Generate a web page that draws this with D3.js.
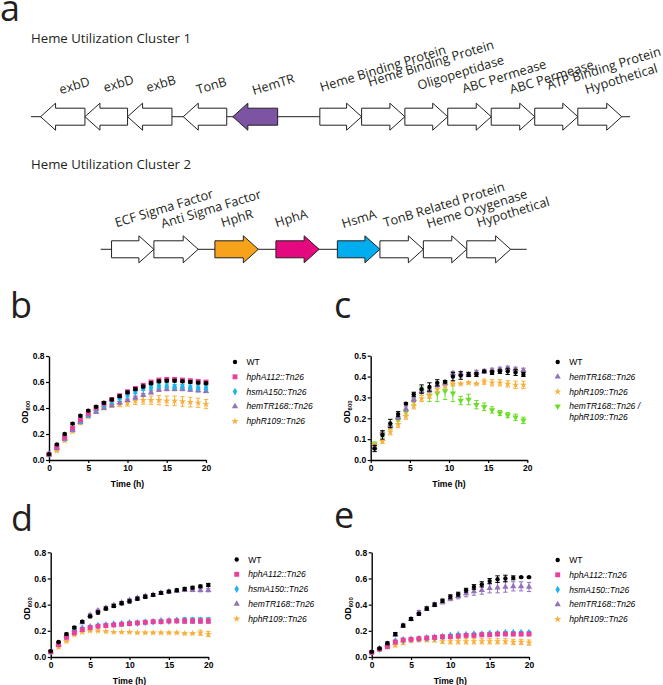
<!DOCTYPE html>
<html>
<head>
<meta charset="utf-8">
<script src="https://cdn.jsdelivr.net/npm/d3@7"></script>
<style>
  body { margin: 0; background: #fff; }
  svg { display: block; }
</style>
</head>
<body>
<div id="fig"></div>
<script>
// ---------- panel a : gene clusters (positions in gene-length units) ----------
var cluster1Genes  = ["exbD", "exbD", "exbB", "TonB", "HemTR", "Heme Binding Protein", "Heme Binding Protein",
                      "Oligopeptidase", "ABC Permease", "ABC Permease", "ATP Binding Protein", "Hypothetical"];
var cluster1Start  = [0, 1.02, 2.0, 3.28, 4.42, 6.42, 7.38, 8.375, 9.36, 10.36, 11.36, 12.35];
var cluster1End    = [1.02, 2.0, 3.02, 4.28, 5.45, 7.38, 8.375, 9.36, 10.36, 11.36, 12.35, 13.36];
var cluster1Strand = [-1, -1, -1, -1, -1, 1, 1, 1, 1, 1, 1, 1];
var cluster1Span   = [-0.22, 13.55];

var cluster2Genes  = ["ECF Sigma Factor", "Anti Sigma Factor", "HphR", "HphA", "HsmA",
                      "TonB Related Protein", "Heme Oxygenase", "Hypothetical"];
var cluster2Start  = [0, 0.975, 2.38, 3.785, 5.2, 6.18, 7.18, 8.18];
var cluster2End    = [0.975, 1.995, 3.38, 4.78, 6.18, 7.18, 8.18, 9.19];
var cluster2Strand = [1, 1, 1, 1, 1, 1, 1, 1];
var cluster2Span   = [-0.25, 9.56];

// ---------- growth curves ----------
var timeWhole = [0,1,2,3,4,5,6,7,8,9,10,11,12,13,14,15,16,17,18,19,20];
var timeHalf  = [0.5,1.5,2.5,3.5,4.5,5.5,6.5,7.5,8.5,9.5,10.5,11.5,12.5,13.5,14.5,15.5,16.5,17.5,18.5,19.5];

// b
var bWT       = [0.045,0.12,0.20,0.28,0.34,0.38,0.41,0.44,0.465,0.49,0.52,0.545,0.565,0.59,0.605,0.61,0.61,0.605,0.60,0.595,0.59];
var bWTErr    = [0.005,0.006,0.006,0.007,0.007,0.008,0.008,0.008,0.008,0.009,0.009,0.01,0.01,0.01,0.01,0.01,0.01,0.01,0.01,0.01,0.01];
var bHphA     = [0.045,0.10,0.175,0.245,0.31,0.36,0.40,0.435,0.465,0.495,0.525,0.55,0.575,0.60,0.615,0.62,0.62,0.615,0.61,0.605,0.60];
var bHphAErr  = [0.005,0.006,0.008,0.01,0.01,0.01,0.01,0.01,0.01,0.01,0.01,0.01,0.01,0.01,0.01,0.01,0.01,0.01,0.01,0.01,0.01];
var bHsmA     = [0.045,0.10,0.17,0.24,0.30,0.35,0.39,0.42,0.45,0.475,0.50,0.525,0.55,0.56,0.57,0.57,0.565,0.565,0.56,0.555,0.555];
var bHsmAErr  = [0.005,0.006,0.008,0.01,0.01,0.01,0.01,0.01,0.012,0.012,0.014,0.015,0.015,0.015,0.015,0.015,0.015,0.015,0.015,0.015,0.015];
var bHemTR    = [0.04,0.09,0.16,0.23,0.29,0.34,0.37,0.40,0.42,0.44,0.46,0.48,0.50,0.52,0.54,0.545,0.545,0.545,0.54,0.535,0.53];
var bHemTRErr = [0.005,0.006,0.008,0.008,0.008,0.01,0.01,0.01,0.01,0.01,0.01,0.012,0.012,0.012,0.012,0.012,0.012,0.012,0.012,0.012,0.012];
var bHphR     = [0.04,0.07,0.15,0.22,0.285,0.335,0.375,0.40,0.42,0.43,0.44,0.455,0.46,0.46,0.46,0.455,0.455,0.45,0.445,0.44,0.43];
var bHphRErr  = [0.005,0.005,0.01,0.01,0.01,0.01,0.01,0.012,0.015,0.02,0.025,0.028,0.03,0.032,0.035,0.037,0.037,0.037,0.037,0.035,0.035];

// c
var cWT       = [0.055,0.12,0.175,0.22,0.27,0.315,0.34,0.35,0.37,0.375,0.40,0.405,0.41,0.41,0.425,0.42,0.425,0.425,0.42,0.41];
var cWTErr    = [0.015,0.02,0.02,0.012,0.005,0.01,0.02,0.02,0.015,0.005,0.02,0.018,0.01,0.01,0.005,0.01,0.01,0.015,0.015,0.01];
var cHemTR    = [0.06,0.13,0.165,0.205,0.245,0.29,0.33,0.335,0.36,0.37,0.415,0.415,0.41,0.42,0.425,0.43,0.435,0.44,0.435,0.43];
var cHemTRErr = [0.01,0.01,0.01,0.01,0.01,0.01,0.01,0.01,0.01,0.01,0.01,0.01,0.01,0.01,0.01,0.01,0.01,0.01,0.01,0.01];
var cHphR     = [0.07,0.09,0.135,0.17,0.21,0.26,0.295,0.31,0.34,0.355,0.365,0.365,0.37,0.365,0.375,0.37,0.37,0.365,0.36,0.36];
var cHphRErr  = [0.01,0.01,0.015,0.015,0.015,0.015,0.015,0.015,0.015,0.01,0.01,0.005,0.005,0.005,0.012,0.015,0.015,0.015,0.018,0.018];
var cDouble   = [0.075,0.125,0.16,0.19,0.23,0.28,0.33,0.31,0.32,0.33,0.32,0.285,0.29,0.265,0.255,0.24,0.225,0.215,0.205,0.19];
var cDoubleErr= [0.012,0.015,0.015,0.015,0.015,0.015,0.02,0.03,0.04,0.04,0.04,0.02,0.025,0.02,0.018,0.015,0.012,0.012,0.015,0.015];

// d
var dWT       = [0.045,0.115,0.175,0.225,0.27,0.31,0.34,0.37,0.39,0.41,0.425,0.445,0.46,0.475,0.49,0.50,0.51,0.52,0.53,0.54,0.55];
var dWTErr    = [0.005,0.005,0.008,0.008,0.008,0.01,0.012,0.012,0.012,0.012,0.012,0.012,0.012,0.01,0.01,0.01,0.01,0.012,0.01,0.01,0.012];
var dHphA     = [0.04,0.095,0.15,0.185,0.21,0.225,0.235,0.24,0.245,0.25,0.255,0.26,0.265,0.27,0.27,0.275,0.275,0.275,0.275,0.275,0.275];
var dHphAErr  = [0.004,0.005,0.005,0.005,0.005,0.005,0.005,0.005,0.005,0.005,0.005,0.005,0.005,0.005,0.005,0.005,0.008,0.015,0.015,0.015,0.015];
var dHsmA     = [0.04,0.10,0.16,0.20,0.22,0.23,0.24,0.245,0.25,0.255,0.26,0.26,0.265,0.27,0.275,0.275,0.28,0.28,0.28,0.28,0.28];
var dHsmAErr  = [0.004,0.005,0.005,0.005,0.005,0.005,0.005,0.005,0.005,0.005,0.005,0.005,0.005,0.005,0.005,0.005,0.008,0.02,0.02,0.02,0.02];
var dHemTR    = [0.04,0.10,0.165,0.21,0.265,0.32,0.355,0.375,0.395,0.415,0.435,0.45,0.465,0.475,0.49,0.50,0.505,0.51,0.51,0.51,0.51];
var dHemTRErr = [0.004,0.005,0.008,0.008,0.008,0.01,0.01,0.01,0.01,0.01,0.01,0.01,0.01,0.01,0.01,0.01,0.01,0.01,0.01,0.012,0.012];
var dHphR     = [0.035,0.075,0.12,0.17,0.19,0.20,0.20,0.195,0.19,0.19,0.19,0.185,0.185,0.185,0.185,0.185,0.185,0.18,0.18,0.185,0.175];
var dHphRErr  = [0.004,0.005,0.005,0.005,0.005,0.005,0.005,0.004,0.004,0.004,0.004,0.004,0.004,0.004,0.004,0.004,0.004,0.005,0.006,0.02,0.02];

// e
var eWT       = [0.04,0.065,0.105,0.175,0.24,0.29,0.33,0.37,0.40,0.43,0.46,0.48,0.51,0.535,0.555,0.58,0.595,0.60,0.605,0.61,0.61];
var eWTErr    = [0.005,0.005,0.01,0.012,0.012,0.01,0.012,0.012,0.012,0.012,0.015,0.015,0.015,0.018,0.02,0.02,0.025,0.025,0.015,0.005,0.005];
var eHphA     = [0.035,0.06,0.08,0.115,0.13,0.135,0.14,0.145,0.15,0.155,0.155,0.16,0.165,0.165,0.17,0.17,0.175,0.175,0.175,0.175,0.175];
var eHphAErr  = [0.004,0.004,0.005,0.006,0.005,0.005,0.005,0.005,0.005,0.005,0.005,0.005,0.005,0.005,0.005,0.005,0.005,0.005,0.005,0.005,0.008];
var eHsmA     = [0.035,0.06,0.085,0.12,0.13,0.135,0.14,0.145,0.15,0.155,0.165,0.17,0.17,0.175,0.175,0.18,0.18,0.185,0.185,0.185,0.185];
var eHsmAErr  = [0.004,0.004,0.005,0.006,0.005,0.005,0.005,0.005,0.005,0.005,0.008,0.008,0.008,0.008,0.008,0.008,0.008,0.008,0.008,0.008,0.01];
var eHemTR    = [0.04,0.065,0.10,0.17,0.24,0.29,0.34,0.37,0.40,0.42,0.445,0.465,0.485,0.50,0.51,0.525,0.53,0.535,0.54,0.54,0.535];
var eHemTRErr = [0.004,0.005,0.008,0.01,0.01,0.012,0.015,0.015,0.015,0.015,0.015,0.02,0.025,0.028,0.03,0.035,0.04,0.04,0.035,0.035,0.035];
var eHphR     = [0.035,0.06,0.075,0.09,0.11,0.125,0.13,0.13,0.13,0.12,0.12,0.12,0.12,0.12,0.12,0.12,0.12,0.12,0.115,0.115,0.11];
var eHphRErr  = [0.004,0.005,0.008,0.012,0.015,0.012,0.012,0.012,0.015,0.018,0.02,0.02,0.02,0.02,0.02,0.02,0.02,0.02,0.02,0.02,0.02];

var legendWT     = "WT";
var legendHphA   = "hphA112::Tn26";
var legendHsmA   = "hsmA150::Tn26";
var legendHemTR  = "hemTR168::Tn26";
var legendHphR   = "hphR109::Tn26";
var legendDouble = ["hemTR168::Tn26 /", "hphR109::Tn26"];

// ---------- styles ----------
var geneFill = { "HemTR": "#7c54a3", "HphR": "#f7a21b", "HphA": "#e5097f", "HsmA": "#00aeef" };
var strainStyle = {
  wt:     { color: "#000000", type: d3.symbolCircle,   size: 15, rot: 0 },
  hphA:   { color: "#ec3f9b", type: d3.symbolSquare,   size: 24, rot: 0 },
  hsmA:   { color: "#1db4ec", type: d3.symbolDiamond,  size: 18, rot: 0 },
  hemTR:  { color: "#9572b8", type: d3.symbolTriangle, size: 17, rot: 0 },
  hphR:   { color: "#f8b13f", type: d3.symbolStar,     size: 16, rot: 0 },
  double: { color: "#6cdc26", type: d3.symbolTriangle, size: 17, rot: 180 }
};
var geneFont = "'Open Sans', 'Noto Sans', sans-serif";
var plotFont = "'Liberation Sans', Arial, sans-serif";

var W = 663, H = 685;
var svg = d3.select("#fig").append("svg").attr("width", W).attr("height", H);

// panel letters
function letter(t, x, y) {
  svg.append("text").attr("x", x).attr("y", y).text(t)
    .style("font-family", geneFont).style("font-size", "36px").style("fill", "#231f20");
}
letter("a", 0, 21);
letter("b", 10, 318);
letter("c", 334, 318);
letter("d", 11, 531);
letter("e", 334, 528);

// ---------- gene clusters ----------
var labelNudge1 = [[20.3,-22.4],[20,-24.4],[20.3,-24.4],[14.7,-22.4],[21,-21.7],[1.7,-25],[8,-30],[14,-26.7],[16,-23.4],[20,-22.7],[14,-27],[8.7,-22.7]];
var labelNudge2 = [[5,-22],[8.7,-21],[7.7,-22],[0.7,-22],[6,-21],[5,-22],[5,-21],[11.6,-22]];

function arrowPath(x0, x1, y, strand) {
  var sh = 8.5, hh = 13.5, hl = 15;
  if (strand > 0) {
    return "M" + x0 + "," + (y - sh) + "L" + (x1 - hl) + "," + (y - sh) + "L" + (x1 - hl) + "," + (y - hh) +
      "L" + x1 + "," + y + "L" + (x1 - hl) + "," + (y + hh) + "L" + (x1 - hl) + "," + (y + sh) +
      "L" + x0 + "," + (y + sh) + "Z";
  }
  return "M" + x1 + "," + (y - sh) + "L" + (x0 + hl) + "," + (y - sh) + "L" + (x0 + hl) + "," + (y - hh) +
    "L" + x0 + "," + y + "L" + (x0 + hl) + "," + (y + hh) + "L" + (x0 + hl) + "," + (y + sh) +
    "L" + x1 + "," + (y + sh) + "Z";
}

function drawCluster(title, titleY, names, starts, ends, strands, span, range, lineY, nudge) {
  var g = svg.append("g");
  var x = d3.scaleLinear().domain(span).range(range);
  g.append("text").attr("x", 31).attr("y", titleY).text(title)
    .style("font-family", geneFont).style("font-size", "13.2px").style("fill", "#231f20");
  g.append("line").attr("x1", x(span[0])).attr("x2", x(span[1]))
    .attr("y1", lineY).attr("y2", lineY).attr("stroke", "#231f20").attr("stroke-width", 1);
  var genes = names.map(function(n, i) { return { name: n, s: starts[i], e: ends[i], strand: strands[i], nd: nudge[i] }; });
  g.selectAll("path.gene").data(genes).enter().append("path")
    .attr("class", "gene")
    .attr("d", function(d) { return arrowPath(x(d.s), x(d.e), lineY, d.strand); })
    .attr("fill", function(d) { return geneFill[d.name] || "#ffffff"; })
    .attr("stroke", "#231f20").attr("stroke-width", 1).attr("stroke-linejoin", "miter");
  g.selectAll("text.glab").data(genes).enter().append("text")
    .attr("class", "glab")
    .attr("transform", function(d) { return "translate(" + (x(d.s) + d.nd[0]) + "," + (lineY + d.nd[1]) + ") rotate(-17)"; })
    .text(function(d) { return d.name; })
    .style("font-family", geneFont).style("font-size", "12.8px").style("fill", "#231f20");
}

drawCluster("Heme Utilization Cluster 1", 43, cluster1Genes, cluster1Start, cluster1End, cluster1Strand,
  cluster1Span, [31, 630], 116.7, labelNudge1);
drawCluster("Heme Utilization Cluster 2", 169, cluster2Genes, cluster2Start, cluster2End, cluster2Strand,
  cluster2Span, [100.7, 526.7], 249.3, labelNudge2);

// ---------- growth curve panels ----------
function drawPanel(p) {
  var g = svg.append("g");
  var x = d3.scaleLinear().domain([0, 20]).range([p.left, p.right]);
  var y = d3.scaleLinear().domain([0, p.yMax]).range([p.bottom, p.top]);

  var yAxis = g.append("g").attr("transform", "translate(" + p.left + ",0)")
    .call(d3.axisLeft(y).tickValues(p.yTicks).tickFormat(d3.format(".1f")).tickSize(3).tickSizeOuter(0).tickPadding(1.5));
  var xAxis = g.append("g").attr("transform", "translate(0," + p.bottom + ")")
    .call(d3.axisBottom(x).tickValues([0, 5, 10, 15, 20]).tickSize(3).tickSizeOuter(0).tickPadding(1.5));
  [xAxis, yAxis].forEach(function(a) {
    a.select(".domain").attr("stroke-width", 1.4);
    a.selectAll(".tick line").attr("stroke-width", 1.2);
    a.selectAll("text").style("font-family", plotFont).style("font-size", "8.5px").style("font-weight", "bold");
  });

  // axis titles
  g.append("text").attr("x", (p.left + p.right) / 2).attr("y", p.bottom + 27)
    .attr("text-anchor", "middle").text("Time (h)")
    .style("font-family", plotFont).style("font-size", "8.6px").style("font-weight", "bold");
  var od = g.append("text")
    .attr("transform", "translate(" + (p.left - 21) + "," + ((p.top + p.bottom) / 2 + 4) + ") rotate(-90)")
    .attr("text-anchor", "middle")
    .style("font-family", plotFont).style("font-weight", "bold").style("font-size", "8.6px");
  od.append("tspan").text("OD");
  od.append("tspan").attr("dy", 2).style("font-size", "6px").text("600");

  // series drawn back to front so WT sits on top
  p.series.slice().reverse().forEach(function(s) {
    var st = strainStyle[s.key];
    var pts = s.values.map(function(v, i) { return { t: p.times[i], v: v, e: s.err[i] }; });
    var sg = g.append("g");
    sg.selectAll("line.eb").data(pts).enter().append("line")
      .attr("x1", function(d) { return x(d.t); }).attr("x2", function(d) { return x(d.t); })
      .attr("y1", function(d) { return y(d.v - d.e); }).attr("y2", function(d) { return y(d.v + d.e); })
      .attr("stroke", st.color).attr("stroke-width", 1);
    [-1, 1].forEach(function(sign) {
      sg.selectAll("line.cap" + sign).data(pts).enter().append("line")
        .attr("x1", function(d) { return x(d.t) - 2.2; }).attr("x2", function(d) { return x(d.t) + 2.2; })
        .attr("y1", function(d) { return y(d.v + sign * d.e); }).attr("y2", function(d) { return y(d.v + sign * d.e); })
        .attr("stroke", st.color).attr("stroke-width", 1);
    });
    sg.selectAll("path.pt").data(pts).enter().append("path")
      .attr("d", d3.symbol().type(st.type).size(st.size))
      .attr("transform", function(d) { return "translate(" + x(d.t) + "," + y(d.v) + ") rotate(" + st.rot + ")"; })
      .attr("fill", st.color);
  });

  // legend
  var ly = p.legendY;
  p.series.forEach(function(s) {
    var st = strainStyle[s.key];
    g.append("path").attr("d", d3.symbol().type(st.type).size(st.size)())
      .attr("transform", "translate(" + p.legendX + "," + ly + ") rotate(" + st.rot + ")")
      .attr("fill", st.color);
    var lines = Array.isArray(s.label) ? s.label : [s.label];
    lines.forEach(function(l, k) {
      g.append("text").attr("x", p.legendX + 11.5).attr("y", ly + k * 11 + 3)
        .text(l)
        .style("font-family", plotFont).style("font-size", "8.5px")
        .style("font-style", s.key === "wt" ? "normal" : "italic");
    });
    ly += 14.8;
  });
}

drawPanel({
  left: 49, right: 206, top: 356, bottom: 460, yMax: 0.8, yTicks: [0, 0.2, 0.4, 0.6, 0.8],
  times: timeWhole, legendX: 235, legendY: 362,
  series: [
    { key: "wt", label: legendWT, values: bWT, err: bWTErr },
    { key: "hphA", label: legendHphA, values: bHphA, err: bHphAErr },
    { key: "hsmA", label: legendHsmA, values: bHsmA, err: bHsmAErr },
    { key: "hemTR", label: legendHemTR, values: bHemTR, err: bHemTRErr },
    { key: "hphR", label: legendHphR, values: bHphR, err: bHphRErr }
  ]
});
drawPanel({
  left: 370.7, right: 527.3, top: 355.7, bottom: 460, yMax: 0.5, yTicks: [0, 0.1, 0.2, 0.3, 0.4, 0.5],
  times: timeHalf, legendX: 557.7, legendY: 362,
  series: [
    { key: "wt", label: legendWT, values: cWT, err: cWTErr },
    { key: "hemTR", label: legendHemTR, values: cHemTR, err: cHemTRErr },
    { key: "hphR", label: legendHphR, values: cHphR, err: cHphRErr },
    { key: "double", label: legendDouble, values: cDouble, err: cDoubleErr }
  ]
});
drawPanel({
  left: 50.7, right: 208.3, top: 552.3, bottom: 657, yMax: 0.8, yTicks: [0, 0.2, 0.4, 0.6, 0.8],
  times: timeWhole, legendX: 236.7, legendY: 559.5,
  series: [
    { key: "wt", label: legendWT, values: dWT, err: dWTErr },
    { key: "hphA", label: legendHphA, values: dHphA, err: dHphAErr },
    { key: "hsmA", label: legendHsmA, values: dHsmA, err: dHsmAErr },
    { key: "hemTR", label: legendHemTR, values: dHemTR, err: dHemTRErr },
    { key: "hphR", label: legendHphR, values: dHphR, err: dHphRErr }
  ]
});
drawPanel({
  left: 371.7, right: 529, top: 552.3, bottom: 657, yMax: 0.8, yTicks: [0, 0.2, 0.4, 0.6, 0.8],
  times: timeWhole, legendX: 557.7, legendY: 560,
  series: [
    { key: "wt", label: legendWT, values: eWT, err: eWTErr },
    { key: "hphA", label: legendHphA, values: eHphA, err: eHphAErr },
    { key: "hsmA", label: legendHsmA, values: eHsmA, err: eHsmAErr },
    { key: "hemTR", label: legendHemTR, values: eHemTR, err: eHemTRErr },
    { key: "hphR", label: legendHphR, values: eHphR, err: eHphRErr }
  ]
});
</script>
</body>
</html>
